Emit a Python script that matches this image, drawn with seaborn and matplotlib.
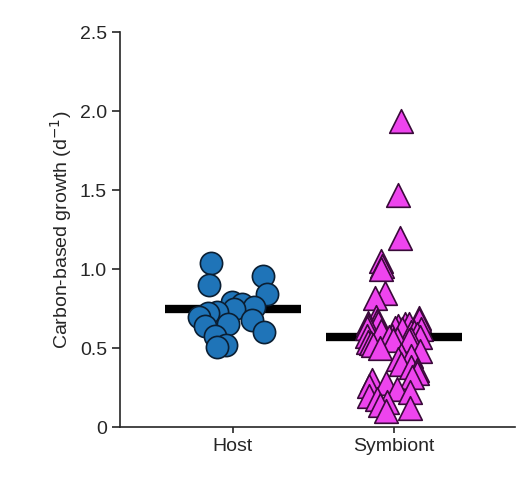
import numpy as np
import pandas as pd
import seaborn as sns
import matplotlib.pyplot as plt

categories = ["Host", "Symbiont"]
host = [1.04, 0.96, 0.90, 0.84, 0.79, 0.78, 0.76, 0.75, 0.73, 0.72, 0.70, 0.68,
        0.65, 0.64, 0.60, 0.58, 0.52, 0.51]
symbiont = [1.94, 1.47, 1.20, 1.05, 1.02, 1.00, 0.85, 0.82,
            0.70, 0.69, 0.68, 0.67, 0.66, 0.66, 0.65, 0.65, 0.64, 0.64, 0.63, 0.63,
            0.62, 0.62, 0.61, 0.60, 0.60, 0.59, 0.58, 0.58, 0.57, 0.57, 0.56, 0.56,
            0.55, 0.55, 0.54, 0.53, 0.52, 0.50, 0.48, 0.46, 0.45, 0.43, 0.40, 0.38,
            0.36, 0.34, 0.32, 0.30, 0.28, 0.26, 0.24, 0.22, 0.20, 0.18, 0.16, 0.14,
            0.12, 0.10]
center_lines = [0.75, 0.57]
yticks = [0, 0.5, 1.0, 1.5, 2.0, 2.5]
ytick_labels = ["0", "0.5", "1.0", "1.5", "2.0", "2.5"]

df = pd.DataFrame({"group": ["Host"] * len(host) + ["Symbiont"] * len(symbiont),
                   "value": host + symbiont})

sns.set_style("ticks")
plt.rcParams['font.family'] = ['Liberation Sans', 'DejaVu Sans']
fig = plt.figure(figsize=(5.18, 4.95), dpi=100)
ax = fig.add_axes([0.232, 0.137, 0.762, 0.798])

for i, (cat, m) in enumerate(zip(categories, center_lines)):
    ax.hlines(m, i - 0.42, i + 0.42, color="black", lw=6, zorder=1)

np.random.seed(5)
sns.stripplot(data=df[df.group == "Host"], x="group", y="value", order=categories,
              jitter=0.25, marker="o", size=16, color="#1f74b8", edgecolor="#0b1f33",
              linewidth=1.2, ax=ax, zorder=3)
sns.stripplot(data=df[df.group == "Symbiont"], x="group", y="value", order=categories,
              jitter=0.17, marker="^", size=17, color="#ee44ee", edgecolor="#3a0a3a",
              linewidth=1.2, ax=ax, zorder=3)

ax.set_xlim(-0.7, 1.75)
ax.set_ylim(0, 2.5)
ax.set_yticks(yticks)
ax.set_yticklabels(ytick_labels)
ax.set_xlabel("")
ax.set_ylabel("Carbon-based growth (d$^{-1}$)", fontsize=14)
ax.tick_params(labelsize=14, width=1.2, length=6)
ax.tick_params(axis="x", length=4)
for s in ["top", "right"]:
    ax.spines[s].set_visible(False)
for s in ["left", "bottom"]:
    ax.spines[s].set_linewidth(1.2)
fig.savefig("out.png", dpi=100)
